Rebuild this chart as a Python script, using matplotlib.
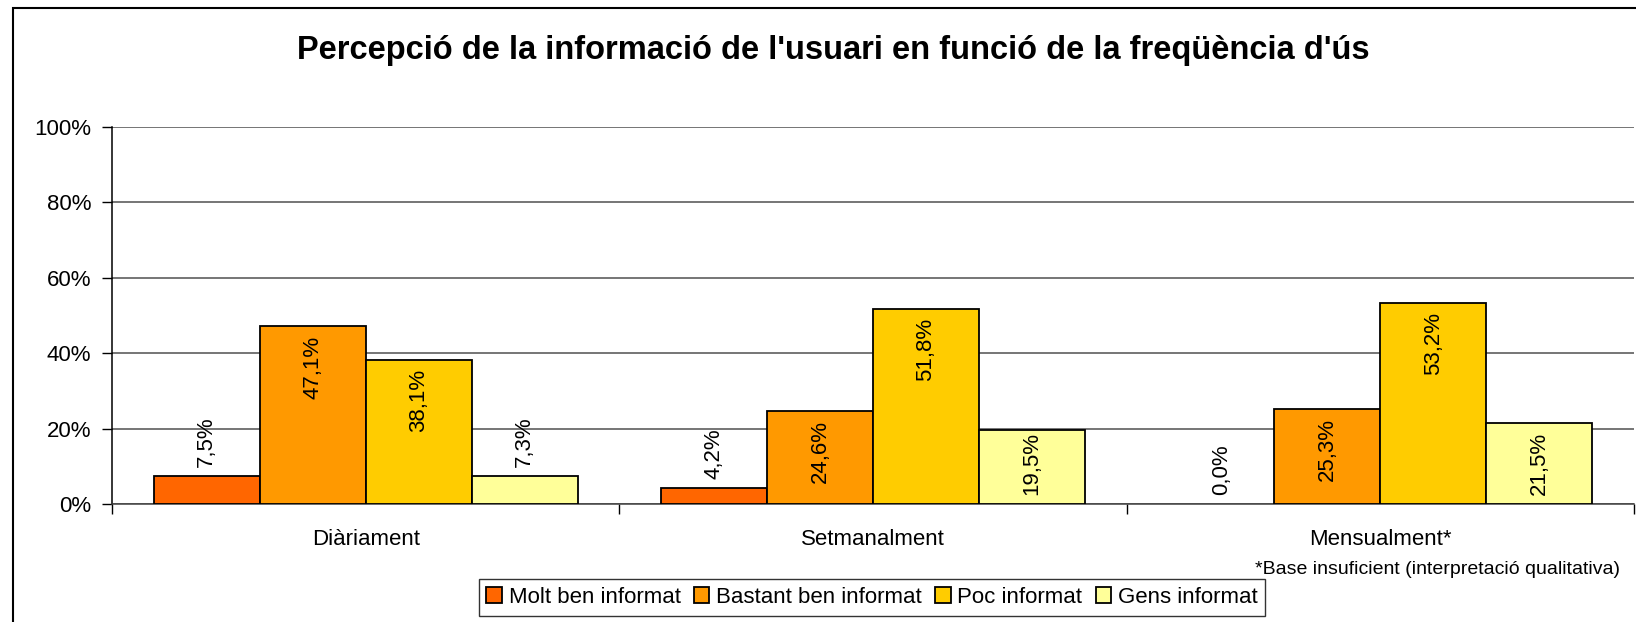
import numpy as np
import matplotlib.pyplot as plt
from matplotlib.patches import Rectangle

plt.rcParams["font.family"] = ["Liberation Sans", "DejaVu Sans"]

# Data
categories = ["Diàriament", "Setmanalment", "Mensualment*"]
series_names = ["Molt ben informat", "Bastant ben informat", "Poc informat", "Gens informat"]
molt_ben = [7.5, 4.2, 0.0]
bastant_ben = [47.1, 24.6, 25.3]
poc = [38.1, 51.8, 53.2]
gens = [7.3, 19.5, 21.5]
colors = ["#FF6600", "#FF9900", "#FFCC00", "#FFFF99"]

title = "Percepció de la informació de l'usuari en funció de la freqüència d'ús"
footnote = "*Base insuficient (interpretació qualitativa)"

W, H = 1636, 622
AX_H = 377  # plot height in px
fig = plt.figure(figsize=(W / 100, H / 100), dpi=100)
ax = fig.add_axes([112 / W, 1 - 504 / H, (1634 - 112) / W, AX_H / H])

x = np.arange(len(categories))
bw = 0.209
all_series = [molt_ben, bastant_ben, poc, gens]
px2pt = 72 / 100

for i, (vals, name, col) in enumerate(zip(all_series, series_names, colors)):
    pos = x + (i - 1.5) * bw
    lws = [1.3 if v > 0 else 0 for v in vals]
    ax.bar(pos, vals, width=bw, color=col, edgecolor="black",
           linewidth=lws, label=name, zorder=3)
    for xp, v in zip(pos, vals):
        lab = f"{v:.1f}".replace(".", ",") + "%"
        if v < 12:
            ax.annotate(lab, (xp, v), xytext=(0, 9 * px2pt), textcoords="offset points",
                        ha="center", va="bottom", rotation=90, fontsize=16, zorder=4)
        else:
            # keep the label inside the bar, like Excel does
            bar_px = v / 100 * AX_H
            off_px = min(9, max(2, bar_px - 63 - 9))
            ax.annotate(lab, (xp, v), xytext=(0, -off_px * px2pt), textcoords="offset points",
                        ha="center", va="top", rotation=90, fontsize=16, zorder=4)

ax.set_xlim(-0.5, len(categories) - 0.5)
ax.set_ylim(0, 100)
ax.set_yticks(np.arange(0, 101, 20))
ax.set_yticklabels([f"{t}%" for t in range(0, 101, 20)], fontsize=16)
ax.yaxis.grid(True, color="#505050", linewidth=1.1, zorder=0)
ax.set_axisbelow(True)

ax.set_xticks([-0.5, 0.5, 1.5, 2.5])
ax.set_xticklabels([])
ax.set_xticks(x, minor=True)
ax.set_xticklabels(categories, minor=True, fontsize=16)
ax.tick_params(axis="x", which="major", length=7, width=1, color="black", direction="out")
ax.tick_params(axis="x", which="minor", length=0, pad=18)
ax.tick_params(axis="y", length=7, width=1, pad=8, direction="out")

for s in ["top", "right"]:
    ax.spines[s].set_visible(False)
ax.spines["left"].set_linewidth(1.1)
ax.spines["bottom"].set_linewidth(1.1)
ax.spines["bottom"].set_color("#404040")

fig.text(833 / W, 1 - 51 / H, title, ha="center", va="center",
         fontsize=23.5, fontweight="bold")
fig.text(1620 / W, 1 - 570 / H, footnote, ha="right", va="center", fontsize=14)

fig.patches.append(Rectangle((13 / W, -0.1), 1.2, 1.1 - 8 / H,
                             transform=fig.transFigure, fill=False,
                             edgecolor="black", linewidth=1.5))

leg = fig.legend(loc="upper center", bbox_to_anchor=(872 / W, 1 - 579 / H),
                 ncol=4, fontsize=16, frameon=True, fancybox=False,
                 edgecolor="black", handlelength=0.7, handleheight=0.7,
                 handletextpad=0.3, columnspacing=0.6, borderpad=0.35,
                 borderaxespad=0)
leg.get_frame().set_linewidth(1.0)

fig.savefig("out.png", dpi=100)
